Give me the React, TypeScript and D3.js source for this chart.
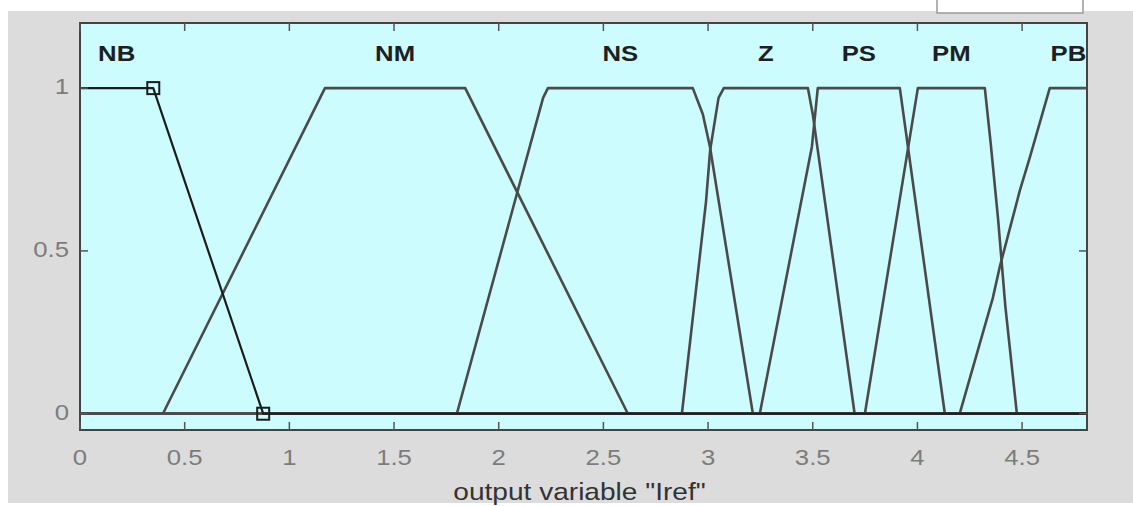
import React from "react";
import * as d3 from "d3";

// Output variable "Iref" — membership functions over the universe of discourse
const xDomain: [number, number] = [0, 4.81];
const yDomain: [number, number] = [-0.05, 1.2];
const xTicks = [0, 0.5, 1, 1.5, 2, 2.5, 3, 3.5, 4, 4.5];
const yTicks = [0, 0.5, 1];

const mfNames = ["NB", "NM", "NS", "Z", "PS", "PM", "PB"];

type Pt = [number, number];
const nbPoints: Pt[] = [[0, 1], [0.35, 1], [0.875, 0], [4.81, 0]];
const nmPoints: Pt[] = [[0, 0], [0.396, 0], [1.17, 1], [1.84, 1], [2.617, 0], [4.81, 0]];
const nsPoints: Pt[] = [[0, 0], [1.8, 0], [2.212, 0.97], [2.235, 1], [2.927, 1], [2.975, 0.92], [3.009, 0.82], [3.214, 0], [4.81, 0]];
const zPoints: Pt[] = [[0, 0], [2.875, 0], [2.99, 0.65], [3.01, 0.81], [3.05, 0.97], [3.075, 1], [3.477, 1], [3.5, 0.92], [3.7, 0], [4.81, 0]];
const psPoints: Pt[] = [[0, 0], [3.247, 0], [3.496, 0.82], [3.524, 1], [3.916, 1], [4.131, 0], [4.81, 0]];
const pmPoints: Pt[] = [[0, 0], [3.749, 0], [4.002, 1], [4.322, 1], [4.35, 0.83], [4.385, 0.6], [4.42, 0.33], [4.475, 0], [4.81, 0]];
const pbPoints: Pt[] = [[0, 0], [4.202, 0], [4.36, 0.355], [4.393, 0.45], [4.489, 0.685], [4.537, 0.787], [4.632, 1], [4.81, 1]];

const mfPoints: Pt[][] = [nbPoints, nmPoints, nsPoints, zPoints, psPoints, pmPoints, pbPoints];

// currently selected membership function (shown with its breakpoints marked)
const selectedIndex = 0;
const selectedBreakpoints: Pt[] = [nbPoints[1], nbPoints[2]];

const axisTitle = 'output variable "Iref"';

const W = 1133;
const H = 506;
const plot = { left: 80, top: 23, right: 1087, bottom: 430 };
const font = "Arial, 'Liberation Sans', sans-serif";
const stretch = 1.17;

function WideText(props: {
  x: number;
  y: number;
  anchor: "start" | "middle" | "end";
  baseline?: string;
  size: number;
  weight?: string;
  fill: string;
  children: React.ReactNode;
}) {
  return (
    <text
      transform={`translate(${props.x},${props.y}) scale(${stretch},1)`}
      textAnchor={props.anchor}
      dominantBaseline={props.baseline ?? "auto"}
      fontFamily={font}
      fontSize={props.size}
      fontWeight={props.weight ?? "normal"}
      fill={props.fill}
    >
      {props.children}
    </text>
  );
}

export default function App() {
  const x = d3.scaleLinear().domain(xDomain).range([plot.left, plot.right]);
  const y = d3.scaleLinear().domain(yDomain).range([plot.bottom, plot.top]);
  const line = d3
    .line<Pt>()
    .x((d) => x(d[0]))
    .y((d) => y(d[1]));

  const labelCenter = (pts: Pt[]) => {
    const top = pts.filter((p) => p[1] >= 1).map((p) => p[0]);
    const lo = Math.max(d3.min(top) ?? 0, xDomain[0]);
    const hi = Math.min(d3.max(top) ?? 0, xDomain[1]);
    return (lo + hi) / 2;
  };

  const tickLen = 8;
  const order = mfPoints.map((_, i) => i).filter((i) => i !== selectedIndex).concat([selectedIndex]);

  return (
    <svg
      width={W}
      height={H}
      style={{ position: "absolute", left: 0, top: 0, background: "#ffffff" }}
    >
      <defs>
        <clipPath id="plotClip">
          <rect x={plot.left} y={plot.top} width={plot.right - plot.left} height={plot.bottom - plot.top} />
        </clipPath>
      </defs>
      {/* figure background */}
      <rect x={8} y={11} width={W - 8} height={492} fill="#dcdcdc" />
      <rect x={937} y={-2} width={146} height={15} fill="#ffffff" stroke="#9a9a9a" strokeWidth={1.5} />

      {/* axes background */}
      <rect
        x={plot.left}
        y={plot.top}
        width={plot.right - plot.left}
        height={plot.bottom - plot.top}
        fill="#ccfcfd"
      />

      {/* membership function curves */}
      <g clipPath="url(#plotClip)">
        {order.map((i) => (
          <path
            key={mfNames[i]}
            d={line(mfPoints[i]) ?? ""}
            fill="none"
            stroke={i === selectedIndex ? "#1c1c1c" : "#4a4a4a"}
            strokeWidth={i === selectedIndex ? 2.2 : 2.6}
            strokeLinejoin="round"
          />
        ))}
        {selectedBreakpoints.map((p, k) => (
          <rect
            key={k}
            x={x(p[0]) - 6}
            y={y(p[1]) - 6}
            width={12}
            height={12}
            fill="none"
            stroke="#1c1c1c"
            strokeWidth={2}
          />
        ))}
      </g>

      {/* MF names */}
      {mfPoints.map((pts, i) => (
        <WideText
          key={mfNames[i]}
          x={x(labelCenter(pts))}
          y={y(1.1)}
          anchor="middle"
          baseline="middle"
          size={22}
          weight="bold"
          fill="#1e1e24"
        >
          {mfNames[i]}
        </WideText>
      ))}

      {/* frame */}
      <rect
        x={plot.left}
        y={plot.top}
        width={plot.right - plot.left}
        height={plot.bottom - plot.top}
        fill="none"
        stroke="#444"
        strokeWidth={2}
      />

      {/* x ticks (bottom and top) */}
      {xTicks.map((t) => (
        <g key={"x" + t}>
          <line x1={x(t)} x2={x(t)} y1={plot.bottom} y2={plot.bottom - tickLen} stroke="#555" strokeWidth={1.5} />
          <line x1={x(t)} x2={x(t)} y1={plot.top} y2={plot.top + tickLen} stroke="#555" strokeWidth={1.5} />
          <WideText x={x(t)} y={plot.bottom + 35} anchor="middle" size={22} fill="#7c7c7c">
            {String(t)}
          </WideText>
        </g>
      ))}

      {/* y ticks (left and right) */}
      {yTicks.map((t) => (
        <g key={"y" + t}>
          <line x1={plot.left} x2={plot.left + tickLen} y1={y(t)} y2={y(t)} stroke="#555" strokeWidth={1.5} />
          <line x1={plot.right} x2={plot.right - tickLen} y1={y(t)} y2={y(t)} stroke="#555" strokeWidth={1.5} />
          <WideText x={plot.left - 11} y={y(t)} anchor="end" baseline="middle" size={22} fill="#7c7c7c">
            {String(t)}
          </WideText>
        </g>
      ))}

      {/* axis title */}
      <WideText x={(plot.left + plot.right) / 2 - 4} y={500} anchor="middle" size={24} fill="#333">
        {axisTitle}
      </WideText>
    </svg>
  );
}
